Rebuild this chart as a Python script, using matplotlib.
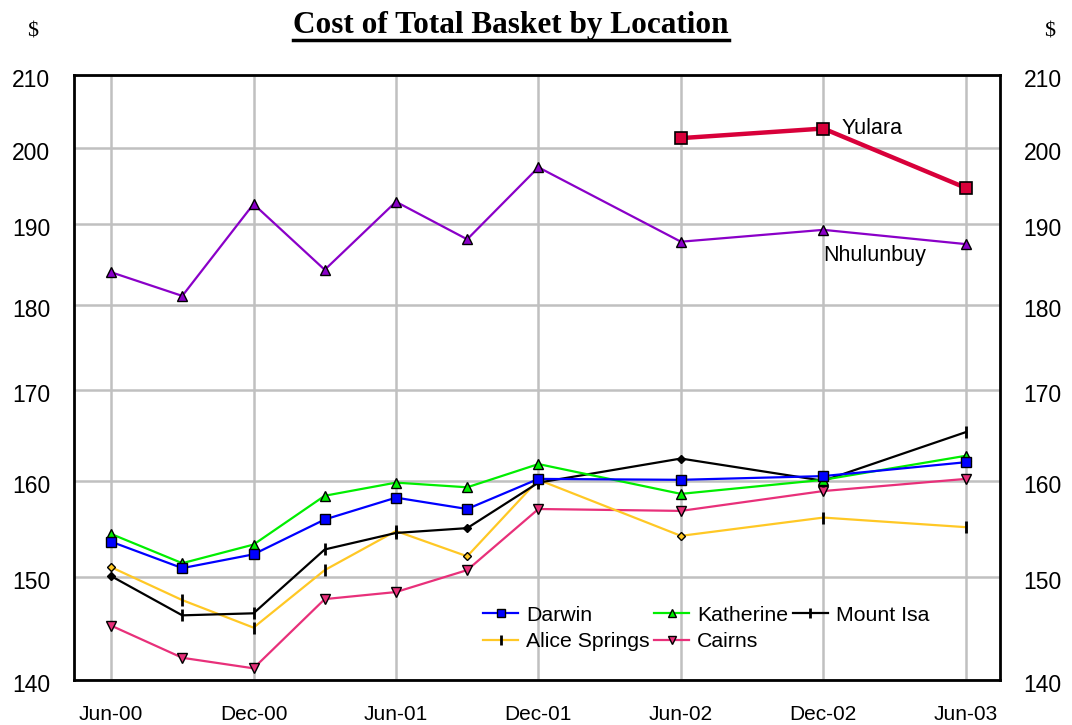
import numpy as np
import pandas as pd
import matplotlib
matplotlib.use("Agg")
import matplotlib.pyplot as plt
from matplotlib.ticker import FixedLocator, NullLocator, NullFormatter
from matplotlib.transforms import ScaledTranslation

periods = ['Jun-00', 'Sep-00', 'Dec-00', 'Mar-01', 'Jun-01', 'Sep-01',
           'Dec-01', 'Jun-02', 'Dec-02', 'Jun-03']
darwin = [153.6, 150.9, 152.3, 155.9, 158.2, 157.0, 160.2, 160.1, 160.5, 162.0]
katherine = [154.4, 151.4, 153.3, 158.4, 159.8, 159.3, 161.8, 158.6, 160.1, 162.7]
mount_isa = [150.1, 146.2, 146.4, 152.8, 154.5, 155.0, 159.8, 162.4, 160.0, 165.3]
alice_springs = [151.0, 147.7, 145.0, 150.7, 154.7, 152.1, 160.1, 154.2, 156.1, 155.1]
cairns = [145.2, 142.1, 141.1, 147.8, 148.5, 150.7, 157.0, 156.8, 158.9, 160.2]
nhulunbuy = [184.0, 181.1, 192.6, 184.3, 192.9, 188.1, 197.4, 187.8, 189.3, 187.5]
yulara_periods = ['Jun-02', 'Dec-02', 'Jun-03']
yulara = [201.3, 202.6, 194.7]

tick_labels = ['Jun-00', 'Dec-00', 'Jun-01', 'Dec-01', 'Jun-02', 'Dec-02', 'Jun-03']
y_ticks = [140, 150, 160, 170, 180, 190, 200, 210]


def to_quarter(labels):
    d = pd.to_datetime(labels, format='%b-%y')
    base = pd.Timestamp('2000-06-01')
    return np.array([((x.year - base.year) * 12 + x.month - base.month) / 3 for x in d])


x = to_quarter(periods)
xy = to_quarter(yulara_periods)
xt = to_quarter(tick_labels)

plt.rcParams['font.family'] = ['Liberation Sans', 'DejaVu Sans']

fig = plt.figure(figsize=(10.72, 7.25), dpi=100)
ax = fig.add_axes([74 / 1072, 1 - 680 / 725, 926 / 1072, 605 / 725])
ax.set_yscale('log')
ax.set_ylim(140, 210)
ax.set_xlim(-0.52, 12.48)

ax.yaxis.set_major_locator(FixedLocator(y_ticks))
ax.yaxis.set_minor_locator(NullLocator())
ax.yaxis.set_minor_formatter(NullFormatter())
ax.set_yticklabels([str(v) for v in y_ticks])
ax.set_xticks(xt)
ax.set_xticklabels(tick_labels)
ax.grid(True, color='#c0c0c0', linewidth=1.8)
ax.set_axisbelow(True)
ax.tick_params(axis='both', length=0)
ax.tick_params(axis='y', pad=17, labelright=True, labelsize=16.5)
ax.tick_params(axis='x', pad=18, labelsize=15)
for s in ax.spines.values():
    s.set_linewidth(2)
    s.set_color('black')

# y labels sit a touch below their gridlines in the original
shift = ScaledTranslation(0, -3 / 100, fig.dpi_scale_trans)
for t in ax.yaxis.get_major_ticks():
    t.label1.set_transform(t.label1.get_transform() + shift)
    t.label2.set_transform(t.label2.get_transform() + shift)

diam = [0, 5, 7]
ticks_idx = [i for i in range(len(x)) if i not in diam]

# Nhulunbuy and Yulara
ax.plot(x, nhulunbuy, color='#8a00c8', lw=1.6, marker='^', ms=6.5,
        mfc='#8a00c8', mec='black', mew=1)
ax.plot(xy, yulara, color='#d8003a', lw=3.2, marker='s', ms=8.5,
        mfc='#d8003a', mec='black', mew=1.2)

h_cairns, = ax.plot(x, cairns, color='#e8307a', lw=1.6, marker='v', ms=6.5,
                    mfc='#e8307a', mec='black', mew=1, label='Cairns')
ax.plot(x, alice_springs, color='#ffc825', lw=1.6)
ax.plot(x[ticks_idx], np.array(alice_springs)[ticks_idx], ls='none', marker='|',
        ms=9, mec='black', mew=2)
ax.plot(x[diam], np.array(alice_springs)[diam], ls='none', marker='D', ms=4,
        mfc='#ffc825', mec='black', mew=1)
ax.plot(x, mount_isa, color='black', lw=1.6)
ax.plot(x[ticks_idx], np.array(mount_isa)[ticks_idx], ls='none', marker='|',
        ms=9, mec='black', mew=2)
ax.plot(x[diam], np.array(mount_isa)[diam], ls='none', marker='D', ms=4,
        mfc='black', mec='black', mew=1)
h_kath, = ax.plot(x, katherine, color='#00ee00', lw=1.6, marker='^', ms=6.5,
                  mfc='#00ee00', mec='black', mew=1, label='Katherine')
h_darwin, = ax.plot(x, darwin, color='#0000ff', lw=1.6, marker='s', ms=7,
                    mfc='#0000ff', mec='black', mew=1, label='Darwin')

h_alice, = ax.plot([], [], color='#ffc825', lw=1.6, marker='|', ms=9,
                   mec='black', mew=2, label='Alice Springs')
h_isa, = ax.plot([], [], color='black', lw=1.6, marker='|', ms=9,
                 mec='black', mew=2, label='Mount Isa')

ax.legend(handles=[h_darwin, h_alice, h_kath, h_cairns, h_isa], ncol=3,
          frameon=False, fontsize=15.3, loc='upper left',
          bbox_to_anchor=(0.4417, 0.123), handlelength=1.65,
          handletextpad=0.38, columnspacing=0.2, labelspacing=0.35,
          borderaxespad=0, borderpad=0, markerscale=0.8)

ax.text(xy[1] + 0.25, yulara[1], 'Yulara', fontsize=15.5, va='center', ha='left')
ax.text(x[-2], nhulunbuy[-2] - 3.2, 'Nhulunbuy', fontsize=15.5, va='center', ha='left')

title = fig.text(511 / 1072, 1 - 26 / 725, 'Cost of Total Basket by Location',
                 family='Liberation Serif', weight='bold', fontsize=22.5,
                 ha='center', va='center')
fig.text(33 / 1072, 1 - 32 / 725, '$', family='Liberation Serif', fontsize=16,
         ha='center', va='center')
fig.text(1050 / 1072, 1 - 32 / 725, '$', family='Liberation Serif', fontsize=16,
         ha='center', va='center')

fig.canvas.draw()
bb = title.get_window_extent().transformed(fig.transFigure.inverted())
fig.add_artist(plt.Line2D([bb.x0, bb.x1], [bb.y0 + 0.001, bb.y0 + 0.001],
                          transform=fig.transFigure, color='black', lw=2.5))

fig.savefig('out.png', dpi=100)
